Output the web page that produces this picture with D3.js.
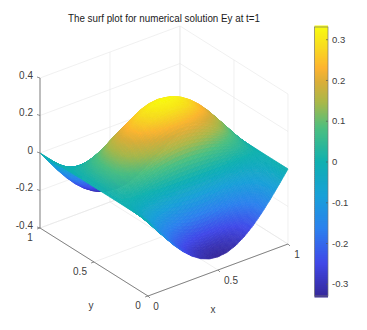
<!DOCTYPE html>
<html><head><meta charset="utf-8">
<style>html,body{margin:0;padding:0;background:#fff}svg{display:block}text{font-family:"Liberation Sans",Arial,sans-serif}</style>
<script src="https://cdn.jsdelivr.net/npm/d3@7/dist/d3.min.js"></script>
</head><body><svg id="c" width="367" height="330"></svg>
<script>
const titleText = "The surf plot for numerical solution Ey at t=1";
const xGrid = [0,.0625,.125,.1875,.25,.3125,.375,.4375,.5,.5625,.625,.6875,.75,.8125,.875,.9375,1];
const yGrid = [0,.0625,.125,.1875,.25,.3125,.375,.4375,.5,.5625,.625,.6875,.75,.8125,.875,.9375,1];
const r0 = [0,-.064,-.126,-.183,-.233,-.274,-.305,-.324,-.33,-.324,-.305,-.274,-.233,-.183,-.126,-.064,0];
const r1 = [0,-.059,-.117,-.170,-.216,-.253,-.282,-.299,-.305,-.299,-.282,-.253,-.216,-.170,-.117,-.059,0];
const r2 = [0,-.045,-.089,-.130,-.165,-.194,-.215,-.229,-.233,-.229,-.215,-.194,-.165,-.130,-.089,-.045,0];
const r3 = [0,-.025,-.048,-.070,-.089,-.105,-.116,-.124,-.126,-.124,-.116,-.105,-.089,-.070,-.048,-.025,0];
const r4 = [0,0,0,0,0,0,0,0,0,0,0,0,0,0,0,0,0];
const r5 = [0,.025,.048,.070,.089,.105,.116,.124,.126,.124,.116,.105,.089,.070,.048,.025,0];
const r6 = [0,.045,.089,.130,.165,.194,.215,.229,.233,.229,.215,.194,.165,.130,.089,.045,0];
const r7 = [0,.059,.117,.170,.216,.253,.282,.299,.305,.299,.282,.253,.216,.170,.117,.059,0];
const r8 = [0,.064,.126,.183,.233,.274,.305,.324,.33,.324,.305,.274,.233,.183,.126,.064,0];
const zRows = [r0,r1,r2,r3,r4,r5,r6,r7,r8,r7,r6,r5,r4,r3,r2,r1,r0];
const xTicks = [0,.5,1], yTicks = [0,.5,1], zTicks = [-.4,-.2,0,.2,.4];
const cbTicks = [-.3,-.2,-.1,0,.1,.2,.3];
const cLim = [-.33,.33];
const colorStops = [0,.125,.25,.375,.5,.625,.72,.8,.85,.93,1];
const colorValues = ["#36289a","#4048e8","#2c80ee","#18a0d8","#0fb0b0","#4cbf80","#a8b84a","#dcae38","#fdb430","#f8dc20","#f8fa10"];

const svg = d3.select("#c");
const defs = svg.append("defs");
defs.append("filter").attr("id","soft").attr("x","-5%").attr("y","-5%").attr("width","110%").attr("height","110%")
  .append("feGaussianBlur").attr("stdDeviation",.4);
const sxX = d3.scaleLinear([0,1],[0,140]), sxY = d3.scaleLinear([0,1],[0,-108]);
const syX = d3.scaleLinear([0,1],[0,-52]), syY = d3.scaleLinear([0,1],[0,-68]);
const syZ = d3.scaleLinear([-.4,.4],[0,-150]);
const P = (x,y,z)=>[148+sxX(x)+sxY(y), 296+syX(x)+syY(y)+syZ(z)];
const color = d3.scaleLinear().domain(colorStops.map(t=>cLim[0]+(cLim[1]-cLim[0])*t)).range(colorValues).clamp(true);
const line = (a,b,st,w)=>svg.append("line").attr("x1",a[0]).attr("y1",a[1]).attr("x2",b[0]).attr("y2",b[1]).attr("stroke",st).attr("stroke-width",w||.6);
const label = (p,t,anchor,size)=>svg.append("text").attr("x",p[0]).attr("y",p[1]).attr("text-anchor",anchor||"middle").attr("dominant-baseline","middle").attr("font-size",size||10).attr("fill","#404040").text(t);
const fmt = d=>d===0?"0":(d<0?"-":"")+d3.format(".1f")(Math.abs(d));
const gridC="#e6e6e6";
zTicks.forEach(z=>{line(P(0,1,z),P(1,1,z),gridC);line(P(1,1,z),P(1,0,z),gridC);});
xTicks.forEach(x=>{line(P(x,1,-.4),P(x,1,.4),gridC);line(P(x,0,-.4),P(x,1,-.4),gridC);});
yTicks.forEach(y=>{line(P(1,y,-.4),P(1,y,.4),gridC);line(P(0,y,-.4),P(1,y,-.4),gridC);});
const sub=7, cells=[];
const bil=(j,i,u,v)=>{const a=zRows[j][i],b=zRows[j][i+1],c=zRows[j+1][i],d=zRows[j+1][i+1];return (a*(1-u)+b*u)*(1-v)+(c*(1-u)+d*u)*v;};
for(let j=yGrid.length-2;j>=0;j--)for(let sj=sub-1;sj>=0;sj--)for(let i=xGrid.length-2;i>=0;i--)for(let si=sub-1;si>=0;si--){
  const u0=si/sub,u1=(si+1)/sub,v0=sj/sub,v1=(sj+1)/sub;
  const X=u=>xGrid[i]+(xGrid[i+1]-xGrid[i])*u, Y=v=>yGrid[j]+(yGrid[j+1]-yGrid[j])*v;
  cells.push({pts:[[u0,v0],[u1,v0],[u1,v1],[u0,v1]].map(([u,v])=>P(X(u),Y(v),bil(j,i,u,v))),z:bil(j,i,(u0+u1)/2,(v0+v1)/2)});
}
svg.append("g").attr("filter","url(#soft)").selectAll("path").data(cells).join("path")
  .attr("d",d=>"M"+d.pts.map(p=>p[0].toFixed(2)+","+p[1].toFixed(2)).join("L")+"Z")
  .attr("fill",d=>color(d.z)).attr("stroke",d=>color(d.z)).attr("stroke-width",.7);
const axC="#666";
line(P(0,1,-.4),P(0,1,.4),axC,.8);
line(P(0,1,-.4),P(0,0,-.4),axC,.8);
line(P(0,0,-.4),P(1,0,-.4),axC,.8);
zTicks.forEach(z=>{const p=P(0,1,z);line(p,[p[0]-3,p[1]-1],axC,.7);label([p[0]-7,p[1]-2],fmt(z),"end");});
yTicks.forEach(y=>{const p=P(0,y,-.4);line(p,[p[0]-3,p[1]+1],axC,.7);});
xTicks.forEach(x=>{const p=P(x,0,-.4);line(p,[p[0]+2,p[1]+2],axC,.7);});
label([30,238],"1");label([80,272],"0.5");label([138,306],"0");
label([156,307],"0");label([231,281],"0.5");label([297,255],"1");
label([91,306],"y");label([213,310],"x");
label([164,19],titleText,"middle",10.5).attr("fill","#1a1a1a").attr("textLength",192).attr("lengthAdjust","spacingAndGlyphs");
const cbS=d3.scaleLinear(cLim,[296,27]);
const cbX=314.5,cbW=13.5;
const cbVals=d3.range(0,135).map(i=>cLim[0]+(cLim[1]-cLim[0])*i/134);
svg.append("g").selectAll("rect").data(cbVals).join("rect").attr("x",cbX).attr("width",cbW)
  .attr("y",d=>cbS(d)-1.5).attr("height",3).attr("fill",d=>color(d));
const ax=svg.append("g").attr("transform",`translate(${cbX+cbW},0)`).call(d3.axisLeft(cbS).tickValues(cbTicks).tickSize(2).tickFormat(fmt));
ax.select(".domain").remove();ax.selectAll("line").attr("stroke","#555").attr("stroke-width",.7);
ax.selectAll("text").attr("x",4).attr("text-anchor","start").attr("font-size",9.5).attr("font-family",'"Liberation Sans",Arial,sans-serif').attr("fill","#404040");
svg.append("rect").attr("x",cbX).attr("y",27).attr("width",cbW).attr("height",269).attr("fill","none").attr("stroke","#777").attr("stroke-width",.7);
</script></body></html>
